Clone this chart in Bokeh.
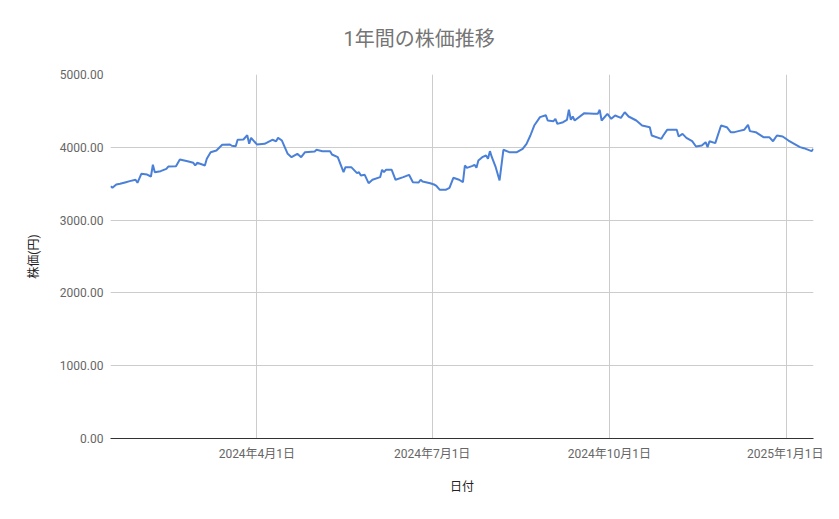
import pandas as pd
from bokeh.plotting import figure
from bokeh.models import (Range1d, FixedTicker, NumeralTickFormatter,
                          CustomJSTickFormatter, ColumnDataSource)
from bokeh.embed import file_html
from bokeh.resources import INLINE

# ---- data ----
dates = [
    "2024-01-16", "2024-01-17", "2024-01-19", "2024-01-21", "2024-01-24", "2024-01-26",
    "2024-01-29", "2024-01-30", "2024-02-01", "2024-02-04", "2024-02-06", "2024-02-07",
    "2024-02-08", "2024-02-11", "2024-02-14", "2024-02-15", "2024-02-19", "2024-02-21",
    "2024-02-25", "2024-02-28", "2024-02-29", "2024-03-01", "2024-03-04", "2024-03-05",
    "2024-03-06", "2024-03-08", "2024-03-11", "2024-03-14", "2024-03-18", "2024-03-19",
    "2024-03-21", "2024-03-22", "2024-03-25", "2024-03-27", "2024-03-28", "2024-03-29",
    "2024-04-01", "2024-04-05", "2024-04-09", "2024-04-11", "2024-04-12", "2024-04-14",
    "2024-04-17", "2024-04-19", "2024-04-22", "2024-04-24", "2024-04-26", "2024-05-01",
    "2024-05-02", "2024-05-05", "2024-05-09", "2024-05-10", "2024-05-13", "2024-05-16",
    "2024-05-17", "2024-05-20", "2024-05-23", "2024-05-24", "2024-05-25", "2024-05-27",
    "2024-05-29", "2024-05-31", "2024-06-04", "2024-06-05", "2024-06-06", "2024-06-07",
    "2024-06-10", "2024-06-12", "2024-06-16", "2024-06-19", "2024-06-21", "2024-06-24",
    "2024-06-25", "2024-06-26", "2024-06-30", "2024-07-02", "2024-07-03", "2024-07-05",
    "2024-07-08", "2024-07-10", "2024-07-12", "2024-07-15", "2024-07-17", "2024-07-18",
    "2024-07-19", "2024-07-22", "2024-07-23", "2024-07-24", "2024-07-25", "2024-07-27",
    "2024-07-29", "2024-07-30", "2024-07-31", "2024-08-01", "2024-08-03", "2024-08-05",
    "2024-08-07", "2024-08-10", "2024-08-14", "2024-08-17", "2024-08-19", "2024-08-21",
    "2024-08-23", "2024-08-26", "2024-08-29", "2024-08-30", "2024-09-02", "2024-09-03",
    "2024-09-04", "2024-09-07", "2024-09-09", "2024-09-10", "2024-09-11", "2024-09-12",
    "2024-09-13", "2024-09-18", "2024-09-23", "2024-09-25", "2024-09-26", "2024-09-27",
    "2024-09-30", "2024-10-02", "2024-10-04", "2024-10-07", "2024-10-09", "2024-10-11",
    "2024-10-15", "2024-10-18", "2024-10-22", "2024-10-23", "2024-10-28", "2024-10-29",
    "2024-10-31", "2024-11-05", "2024-11-06", "2024-11-08", "2024-11-10", "2024-11-13",
    "2024-11-15", "2024-11-18", "2024-11-20", "2024-11-21", "2024-11-22", "2024-11-25",
    "2024-11-28", "2024-12-01", "2024-12-03", "2024-12-05", "2024-12-07", "2024-12-10",
    "2024-12-12", "2024-12-13", "2024-12-16", "2024-12-20", "2024-12-23", "2024-12-25",
    "2024-12-27", "2024-12-30", "2025-01-02", "2025-01-08", "2025-01-10", "2025-01-14",
    "2025-01-15",
]
prices = [
    3466, 3443, 3489, 3499, 3521, 3535,
    3554, 3512, 3636, 3626, 3599, 3760,
    3658, 3672, 3704, 3736, 3741, 3832,
    3809, 3787, 3750, 3787, 3760, 3750,
    3842, 3933, 3956, 4034, 4038, 4021,
    4015, 4103, 4107, 4166, 4048, 4130,
    4040, 4048, 4103, 4084, 4130, 4093,
    3911, 3864, 3911, 3864, 3933, 3942,
    3966, 3947, 3947, 3901, 3864, 3658,
    3727, 3727, 3645, 3658, 3613, 3622,
    3507, 3554, 3590, 3691, 3658, 3691,
    3691, 3554, 3590, 3622, 3521, 3516,
    3554, 3530, 3507, 3489, 3475, 3416,
    3416, 3443, 3581, 3554, 3521, 3750,
    3718, 3745, 3760, 3718, 3819, 3864,
    3887, 3842, 3947, 3864, 3727, 3544,
    3966, 3933, 3933, 3979, 4048, 4162,
    4299, 4414, 4441, 4368, 4359, 4391,
    4322, 4345, 4377, 4515, 4377, 4423,
    4368, 4469, 4460, 4460, 4515, 4368,
    4460, 4391, 4437, 4405, 4482, 4423,
    4368, 4299, 4276, 4162, 4116, 4162,
    4240, 4240, 4148, 4185, 4130, 4084,
    4011, 4025, 4070, 4002, 4084, 4057,
    4299, 4276, 4208, 4208, 4222, 4240,
    4309, 4222, 4208, 4139, 4139, 4084,
    4162, 4148, 4093, 4002, 3988, 3947,
    3979,
]
x_tick_dates = ["2024-04-01", "2024-07-01", "2024-10-01", "2025-01-01"]
y_ticks = [0, 1000, 2000, 3000, 4000, 5000]
title_text = "1年間の株価推移"
x_label = "日付"
y_label = "株価(円)"

FONT = "Roboto, 'Noto Sans CJK JP', sans-serif"

x = pd.to_datetime(dates)
src = ColumnDataSource(dict(date=x, price=prices))

p = figure(width=823, height=503, x_axis_type="datetime",
           output_backend="svg", toolbar_location=None,
           x_range=Range1d(x.min(), x.max()), y_range=Range1d(0, 5000),
           min_border_left=110, min_border_right=10,
           min_border_top=74, min_border_bottom=65)

p.line("date", "price", source=src, line_color="#4a80d8", line_width=2)

# title
p.title.text = title_text
p.title.align = "left"
p.title.offset = 233
p.title.text_font = FONT
p.title.text_font_size = "20px"
p.title.text_font_style = "normal"
p.title.text_color = "#757575"
p.title.standoff = 48

p.outline_line_color = None
p.background_fill_color = "white"
p.border_fill_color = "white"

# x axis
xa = p.xaxis[0]
xa.ticker = FixedTicker(ticks=[pd.Timestamp(t).value // 10**6 for t in x_tick_dates])
xa.formatter = CustomJSTickFormatter(code="""
const d = new Date(tick);
return d.getUTCFullYear() + "年" + (d.getUTCMonth() + 1) + "月" + d.getUTCDate() + "日";
""")
xa.axis_label = x_label
xa.axis_line_color = "#333333"
xa.major_tick_line_color = None
xa.minor_tick_line_color = None
xa.major_tick_out = 0
xa.major_tick_in = 0
xa.minor_tick_out = 0
xa.major_label_standoff = 8
xa.major_label_text_font = FONT
xa.major_label_text_font_size = "12px"
xa.major_label_text_color = "#666666"
xa.axis_label_text_font = FONT
xa.axis_label_text_font_size = "12px"
xa.axis_label_text_font_style = "normal"
xa.axis_label_text_color = "#222222"
xa.axis_label_standoff = 16

# y axis
ya = p.yaxis[0]
ya.ticker = FixedTicker(ticks=y_ticks)
ya.formatter = NumeralTickFormatter(format="0.00")
ya.axis_label = y_label
ya.axis_line_color = None
ya.major_tick_line_color = None
ya.minor_tick_line_color = None
ya.major_tick_out = 0
ya.major_tick_in = 0
ya.minor_tick_out = 0
ya.major_label_standoff = 7
ya.major_label_text_font = FONT
ya.major_label_text_font_size = "12px"
ya.major_label_text_color = "#666666"
ya.axis_label_text_font = FONT
ya.axis_label_text_font_size = "12px"
ya.axis_label_text_font_style = "normal"
ya.axis_label_text_color = "#222222"
ya.axis_label_standoff = 16

p.xgrid.grid_line_color = "#cccccc"
p.ygrid.grid_line_color = "#cccccc"

open("out.html", "w").write(file_html(p, INLINE))
